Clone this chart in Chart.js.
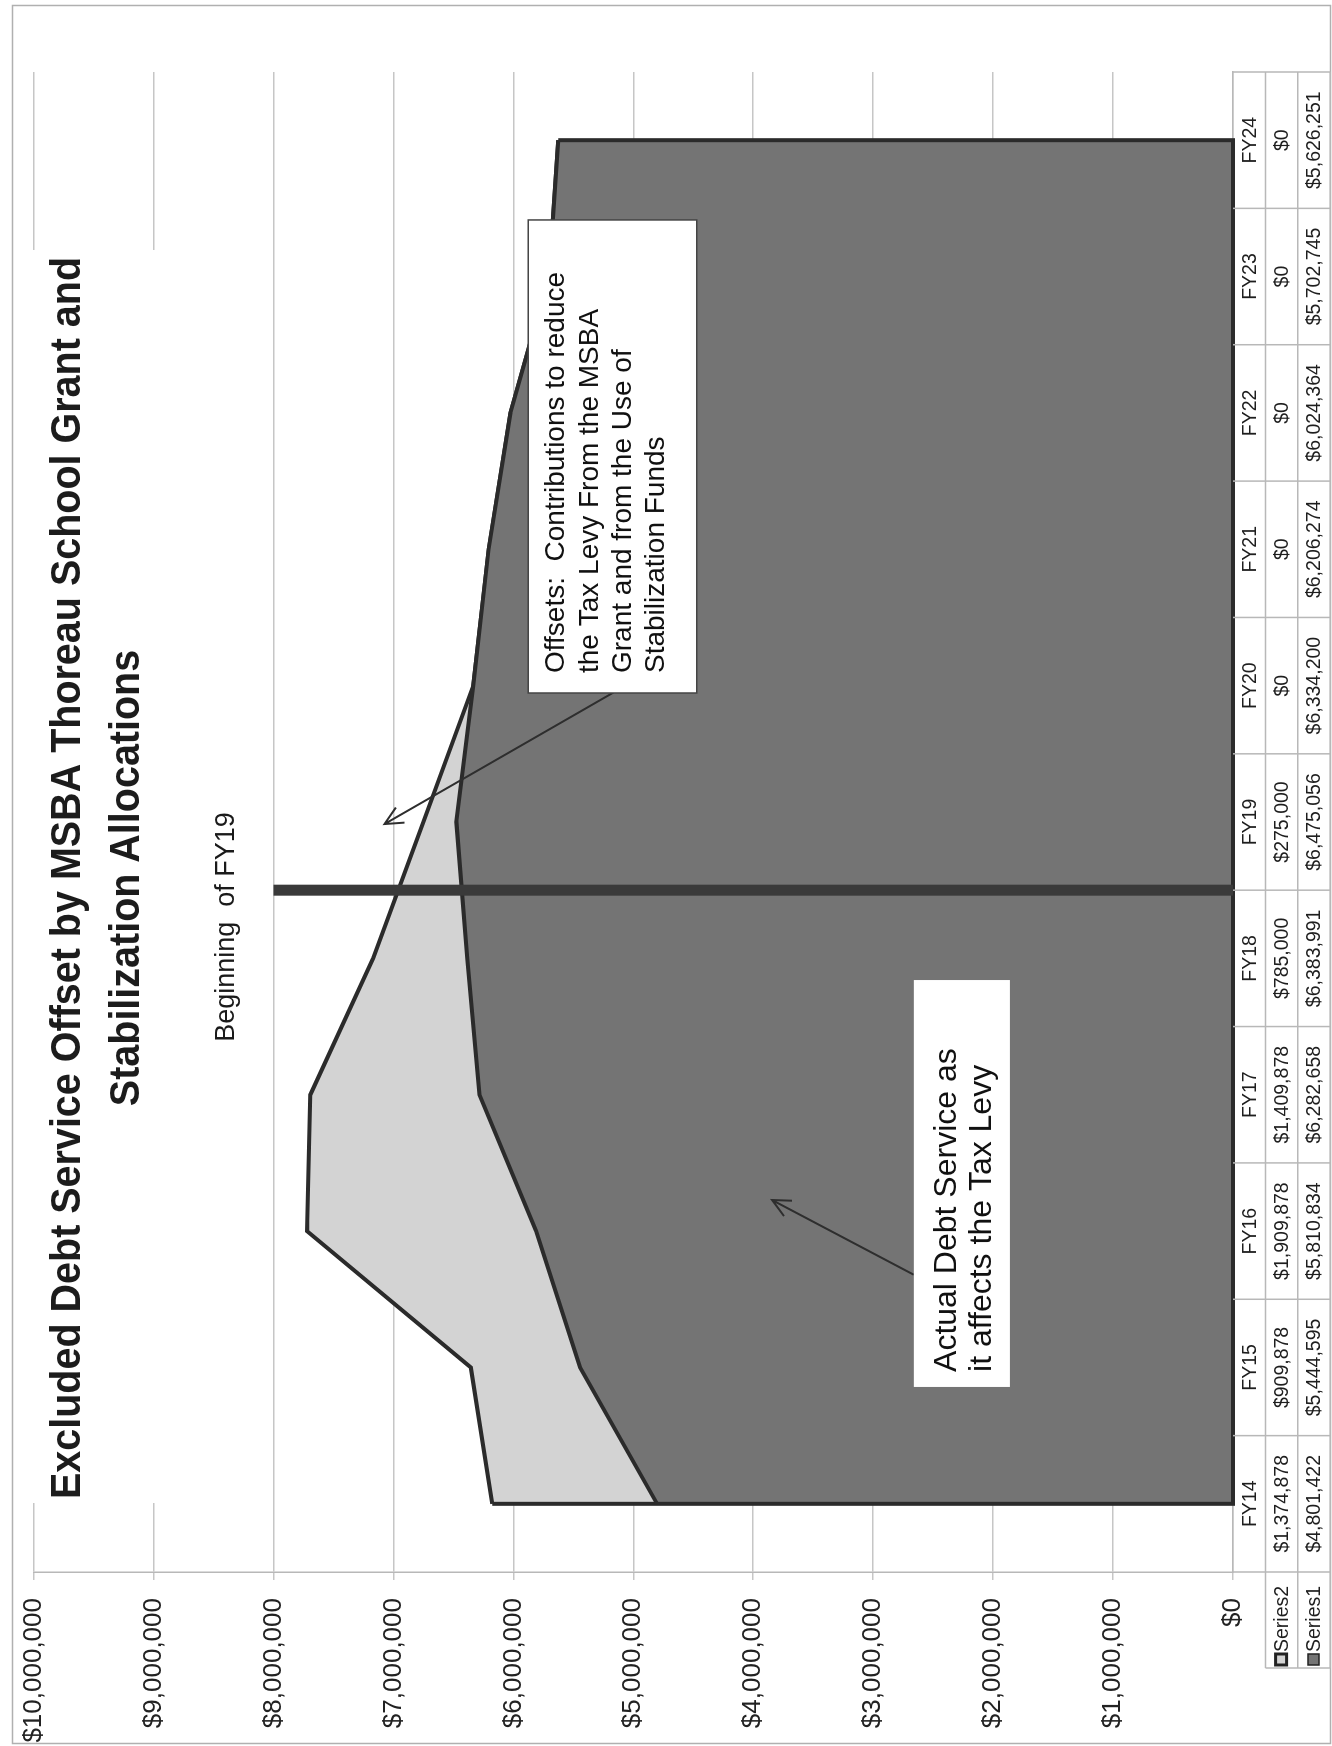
<!DOCTYPE html>
<html>
<head>
<meta charset="utf-8">
<script src="https://cdn.jsdelivr.net/npm/chart.js@4.4.0/dist/chart.umd.min.js"></script>
<style>
  html, body { margin: 0; padding: 0; background: #fff; }
  body { width: 1332px; height: 1746px; overflow: hidden; position: relative; }
  /* the chart is laid out landscape and turned a quarter turn onto the page */
  #sheet {
    position: absolute; left: 0; top: 0;
    width: 1746px; height: 1332px;
    transform-origin: 0 0;
    transform: translate(0, 1746px) rotate(-90deg);
  }
</style>
</head>
<body>
<div id="sheet"><canvas id="debtChart" width="1746" height="1332"></canvas></div>
<script>
const fiscalYears = ["FY14", "FY15", "FY16", "FY17", "FY18", "FY19", "FY20", "FY21", "FY22", "FY23", "FY24"];
// Series2: MSBA grant + stabilization offsets
const offsetSeries = [1374878, 909878, 1909878, 1409878, 785000, 275000, 0, 0, 0, 0, 0];
// Series1: debt service actually raised on the levy
const levySeries = [4801422, 5444595, 5810834, 6282658, 6383991, 6475056, 6334200, 6206274, 6024364, 5702745, 5626251];
const seriesNames = ["Series2", "Series1"];
const valueMax = 10000000;
const valueStep = 1000000;

const titleLines = [
  "Excluded Debt Service Offset by MSBA Thoreau School Grant and",
  "Stabilization Allocations",
];
const markerLabel = "Beginning  of FY19";
const offsetsNote = [
  "Offsets:  Contributions to reduce",
  "the Tax Levy From the MSBA",
  "Grant and from the Use of",
  "Stabilization Funds",
];
const levyNote = ["Actual Debt Service as", "it affects the Tax Levy"];

const FONT = '"Liberation Sans", Arial, sans-serif';
const LIGHT_FILL = "#d3d3d3";
const DARK_FILL = "#747474";
const EDGE = "#2b2b2b";
const RULE = "#b8b8b8";

const money = (v) => "$" + Math.round(v).toLocaleString("en-US");

// ----------------- plugins -----------------

const frame = {
  id: "frame",
  beforeDraw(chart) {
    const { ctx, width, height } = chart;
    ctx.save();
    ctx.fillStyle = "#fff";
    ctx.fillRect(0, 0, width, height);
    ctx.strokeStyle = "#b0b0b0";
    ctx.lineWidth = 1.5;
    ctx.strokeRect(2.5, 12.5, width - 8, height - 14);
    ctx.restore();
  },
};

// close the stacked areas: end edges and the base line
const areaEdges = {
  id: "areaEdges",
  afterDatasetsDraw(chart) {
    const { ctx } = chart;
    const y = chart.scales.y;
    const low = chart.getDatasetMeta(0).data;
    const high = chart.getDatasetMeta(1).data;
    const base = y.getPixelForValue(0);
    const first = 0;
    const last = low.length - 1;
    ctx.save();
    ctx.strokeStyle = EDGE;
    ctx.lineWidth = 4;
    ctx.lineJoin = "miter";
    ctx.beginPath();
    ctx.moveTo(high[first].x, high[first].y);
    ctx.lineTo(low[first].x, base);
    ctx.lineTo(low[last].x, base);
    ctx.lineTo(high[last].x, high[last].y);
    ctx.stroke();

    // FY19 start marker, between the FY18 and FY19 columns
    const x = chart.scales.x;
    const mx = x.getPixelForValue(4.5);
    ctx.strokeStyle = "#3a3a3a";
    ctx.lineWidth = 11;
    ctx.beginPath();
    ctx.moveTo(mx, base);
    ctx.lineTo(mx, y.getPixelForValue(8000000));
    ctx.stroke();
    ctx.restore();
  },
};

const dataTable = {
  id: "dataTable",
  afterDraw(chart) {
    const { ctx, chartArea } = chart;
    const x = chart.scales.x;
    const n = fiscalYears.length;
    const colW = (chartArea.right - chartArea.left) / n;
    const top = chartArea.bottom;
    const rowH = 32.4;
    const keyLeft = 78;
    const rows = [top, top + rowH, top + rowH * 2, top + rowH * 3];

    ctx.save();
    ctx.strokeStyle = RULE;
    ctx.lineWidth = 1.5;
    ctx.beginPath();
    // horizontal rules
    for (let r = 1; r < rows.length; r++) {
      ctx.moveTo(keyLeft, rows[r]);
      ctx.lineTo(chartArea.right, rows[r]);
    }
    // column rules
    for (let i = 0; i <= n; i++) {
      const cx = chartArea.left + i * colW;
      ctx.moveTo(cx, rows[0]);
      ctx.lineTo(cx, rows[3]);
    }
    ctx.moveTo(keyLeft, rows[1]);
    ctx.lineTo(keyLeft, rows[3]);
    ctx.stroke();

    ctx.fillStyle = "#1e1e1e";
    ctx.font = "19.5px " + FONT;
    ctx.textAlign = "center";
    ctx.textBaseline = "middle";
    fiscalYears.forEach((fy, i) => {
      const cx = x.getPixelForValue(i);
      ctx.fillText(fy, cx, rows[0] + rowH / 2 + 1);
      ctx.fillText(money(offsetSeries[i]), cx, rows[1] + rowH / 2 + 1);
      ctx.fillText(money(levySeries[i]), cx, rows[2] + rowH / 2 + 1);
    });

    // legend keys
    ctx.textAlign = "left";
    const keys = [LIGHT_FILL, DARK_FILL];
    seriesNames.forEach((name, r) => {
      const mid = rows[r + 1] + rowH / 2;
      ctx.fillStyle = keys[r];
      ctx.fillRect(keyLeft + 3, mid - 6, 11, 11);
      ctx.strokeStyle = "#222";
      ctx.lineWidth = r === 0 ? 3 : 1.5;
      ctx.strokeRect(keyLeft + 3, mid - 6, 11, 11);
      ctx.fillStyle = "#1e1e1e";
      ctx.fillText(name, keyLeft + 16, mid + 1);
    });
    ctx.restore();
  },
};

function arrow(ctx, x0, y0, x1, y1) {
  const ang = Math.atan2(y1 - y0, x1 - x0);
  const len = 20;
  ctx.beginPath();
  ctx.moveTo(x0, y0);
  ctx.lineTo(x1, y1);
  ctx.moveTo(x1 - len * Math.cos(ang - 0.45), y1 - len * Math.sin(ang - 0.45));
  ctx.lineTo(x1, y1);
  ctx.lineTo(x1 - len * Math.cos(ang + 0.45), y1 - len * Math.sin(ang + 0.45));
  ctx.stroke();
}

function noteBox(ctx, x, y, box, lines, border) {
  const left = x.getPixelForValue(box.from);
  const right = x.getPixelForValue(box.to);
  const top = y.getPixelForValue(box.high);
  const bottom = y.getPixelForValue(box.low);
  ctx.fillStyle = "#fff";
  ctx.fillRect(left, top, right - left, bottom - top);
  if (border) {
    ctx.strokeStyle = "#444";
    ctx.lineWidth = 1.5;
    ctx.strokeRect(left, top, right - left, bottom - top);
  }
  ctx.fillStyle = "#111";
  ctx.font = box.size + "px " + FONT;
  ctx.textAlign = "left";
  ctx.textBaseline = "alphabetic";
  lines.forEach((t, i) => {
    ctx.fillText(t, left + box.pad, top + box.first + i * box.step);
  });
}

const notes = {
  id: "notes",
  afterDraw(chart) {
    const { ctx } = chart;
    const x = chart.scales.x;
    const y = chart.scales.y;
    ctx.save();

    ctx.strokeStyle = "#2e2e2e";
    ctx.lineWidth = 2;
    arrow(ctx, x.getPixelForValue(5.95), y.getPixelForValue(5165000),
      x.getPixelForValue(4.985), y.getPixelForValue(7074000));
    arrow(ctx, x.getPixelForValue(1.68), y.getPixelForValue(2661000),
      x.getPixelForValue(2.228), y.getPixelForValue(3843000));

    noteBox(ctx, x, y,
      { from: 5.946, to: 9.415, high: 5876000, low: 4471000, pad: 20, first: 36, step: 33.4, size: 28 },
      offsetsNote, true);
    noteBox(ctx, x, y,
      { from: 0.857, to: 3.841, high: 2661000, low: 1860000, pad: 15, first: 42, step: 35, size: 32 },
      levyNote, false);

    ctx.fillStyle = "#1a1a1a";
    ctx.font = "27px " + FONT;
    ctx.textAlign = "center";
    ctx.fillText(markerLabel, x.getPixelForValue(4.23), y.getPixelForValue(8330000));
    ctx.restore();
  },
};

const heading = {
  id: "heading",
  afterDraw(chart) {
    const { ctx } = chart;
    ctx.save();
    ctx.fillStyle = "#fff";
    ctx.fillRect(243, 32, 1253, 128);
    ctx.font = 'bold 43px "Liberation Sans Narrow", "Liberation Sans", Arial, sans-serif';
    ctx.fillStyle = "#1c1c1c";
    ctx.textAlign = "center";
    ctx.textBaseline = "alphabetic";
    const squeeze = 1242 / ctx.measureText(titleLines[0]).width;
    const cx = 868;
    [80, 139].forEach((base, i) => {
      ctx.save();
      ctx.translate(cx, base);
      ctx.scale(squeeze, 1);
      ctx.fillText(titleLines[i], 0, 0);
      ctx.restore();
    });
    ctx.restore();
  },
};

// ----------------- chart -----------------

new Chart(document.getElementById("debtChart"), {
  type: "line",
  data: {
    labels: fiscalYears,
    datasets: [
      {
        label: seriesNames[1],
        data: levySeries,
        fill: "origin",
        backgroundColor: DARK_FILL,
        borderColor: EDGE,
        borderWidth: 4,
        pointRadius: 0,
        tension: 0,
      },
      {
        label: seriesNames[0],
        data: offsetSeries,
        fill: "-1",
        backgroundColor: LIGHT_FILL,
        borderColor: EDGE,
        borderWidth: 4,
        pointRadius: 0,
        tension: 0,
      },
    ],
  },
  options: {
    responsive: false,
    animation: false,
    devicePixelRatio: 1,
    layout: { padding: { left: 0, right: 72, top: 23, bottom: 0 } },
    plugins: {
      legend: { display: false },
      tooltip: { enabled: false },
      title: { display: false },
    },
    scales: {
      x: {
        offset: true,
        grid: { display: false },
        ticks: { display: false },
        border: { display: true, color: RULE, width: 1.5 },
        afterFit(scale) {
          scale.height = 99;
        },
      },
      y: {
        stacked: true,
        min: 0,
        max: valueMax,
        ticks: {
          stepSize: valueStep,
          callback: (v) => money(v),
          font: { family: FONT, size: 26 },
          color: "#222",
          padding: 18,
        },
        grid: { color: "#c6c6c6", lineWidth: 1.5, tickLength: 8 },
        border: { color: RULE, width: 1.5 },
        afterFit(scale) {
          scale.width = 174;
        },
      },
    },
  },
  plugins: [frame, areaEdges, dataTable, notes, heading],
});
</script>
</body>
</html>
